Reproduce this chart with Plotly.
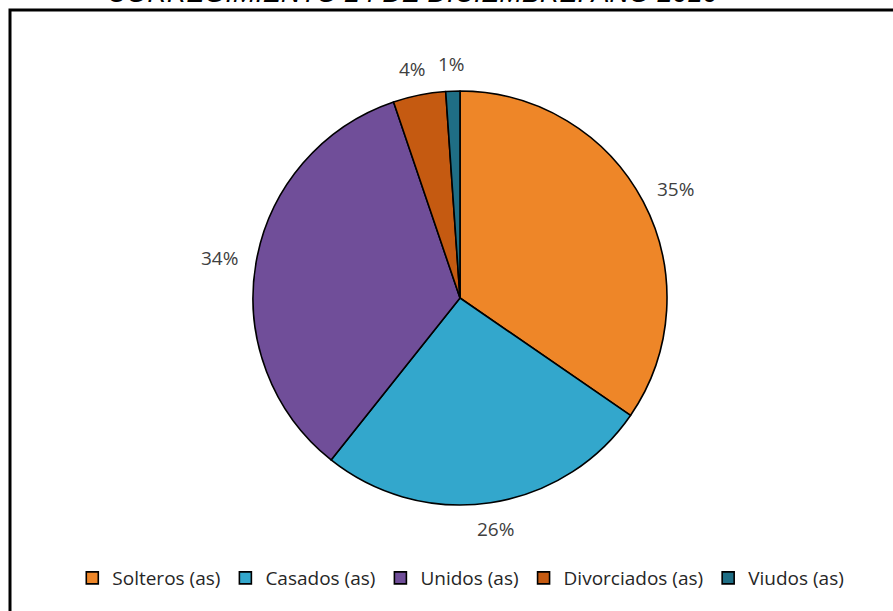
import math
import plotly.graph_objects as go

categories = ["Solteros (as)", "Casados (as)", "Unidos (as)", "Divorciados (as)", "Viudos (as)"]
values = [34.6, 26.1, 34.1, 4.1, 1.1]
colors = ["#EE8628", "#33A7CC", "#704E99", "#C55A11", "#1F6E85"]
title_text = "CORREGIMIENTO 24 DE DICIEMBRE. AÑO 2010"

W, H = 893, 611
cx, cy, r = 460, 298, 207
label_gap = 224          # distance from centre to the label box edge
label_half_w, label_half_h = 20, 10
label_font = dict(family="Open Sans, sans-serif", size=19, color="#404040")

fig = go.Figure(go.Pie(
    labels=categories,
    values=values,
    sort=False,
    direction="clockwise",
    rotation=0,
    marker=dict(colors=colors, line=dict(color="black", width=1.6)),
    textinfo="none",
    domain=dict(x=[(cx - r) / W, (cx + r) / W], y=[(H - cy - r) / H, (H - cy + r) / H]),
    hoverinfo="label+percent",
))

# percentage labels placed outside each slice at its mid-angle (computed from the data)
total = sum(values)
annotations = []
cum = 0.0
for v in values:
    mid = (cum + v / 2) / total * 2 * math.pi
    cum += v
    px = cx + (label_gap + label_half_w) * math.sin(mid)
    py = cy - (label_gap + label_half_h) * math.cos(mid)
    annotations.append(dict(
        text=f"{round(v / total * 100)}%", xref="paper", yref="paper",
        x=px / W, y=1 - py / H, xanchor="center", yanchor="middle",
        showarrow=False, font=label_font))

annotations.append(dict(text=title_text, xref="paper", yref="paper",
                        x=412 / W, xanchor="center", y=1 - 10 / H, yanchor="bottom",
                        showarrow=False,
                        font=dict(family="Liberation Sans, Arial, sans-serif", size=27,
                                  color="#000000", style="italic")))

fig.update_layout(
    width=W, height=H,
    margin=dict(l=0, r=0, t=0, b=0),
    paper_bgcolor="white",
    plot_bgcolor="white",
    showlegend=True,
    legend=dict(
        orientation="h", x=0.516, xanchor="center", y=1 - 578 / H, yanchor="middle",
        font=dict(family="Open Sans, sans-serif", size=19, color="#262626"),
        itemwidth=30, tracegroupgap=0,
    ),
    shapes=[dict(type="rect", xref="paper", yref="paper",
                 x0=10 / W, x1=1.02, y0=-0.02, y1=1 - 10 / H,
                 line=dict(color="black", width=3), fillcolor="rgba(0,0,0,0)", layer="above")],
    annotations=annotations,
)

fig.write_html("out.html", config={"displayModeBar": False},
               post_script="document.body.style.margin='0';document.body.style.overflow='hidden';")
